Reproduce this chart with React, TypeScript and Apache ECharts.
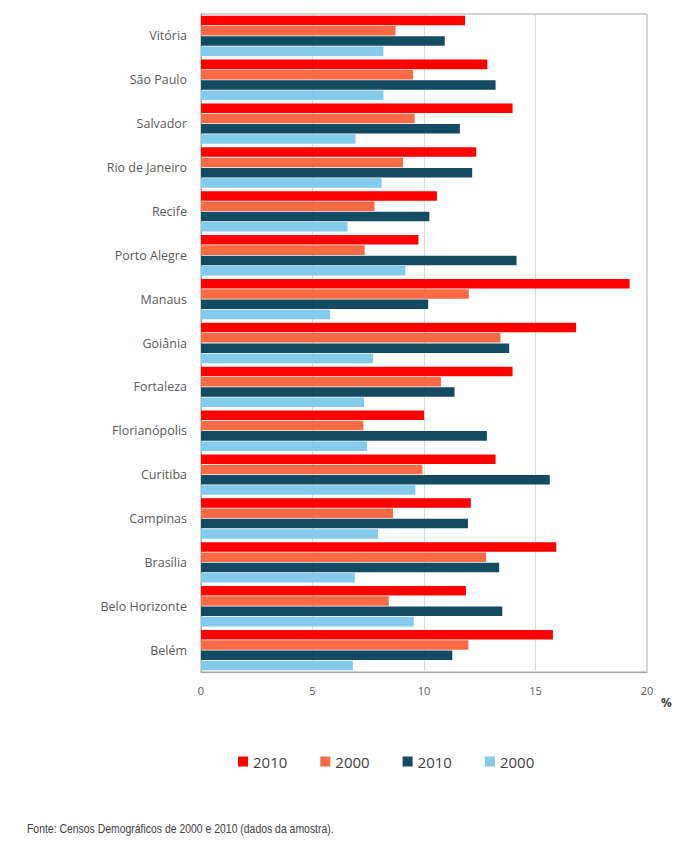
import React, { useEffect, useRef } from 'react';
import * as echarts from 'echarts';

// Cities, top to bottom
const cities = [
  'Vitória', 'São Paulo', 'Salvador', 'Rio de Janeiro', 'Recife',
  'Porto Alegre', 'Manaus', 'Goiânia', 'Fortaleza', 'Florianópolis',
  'Curitiba', 'Campinas', 'Brasília', 'Belo Horizonte', 'Belém',
];

const red2010 = [11.84, 12.84, 13.97, 12.34, 10.58, 9.75, 19.22, 16.82, 13.97, 10.0, 13.21, 12.1, 15.93, 11.88, 15.78];
const orange2000 = [8.72, 9.51, 9.58, 9.06, 7.78, 7.34, 12.01, 13.43, 10.76, 7.28, 9.93, 8.61, 12.78, 8.42, 11.99];
const dark2010 = [10.93, 13.21, 11.61, 12.16, 10.24, 14.15, 10.19, 13.82, 11.37, 12.82, 15.64, 11.97, 13.37, 13.51, 11.27];
const light2000 = [8.18, 8.18, 6.93, 8.1, 6.57, 9.16, 5.79, 7.72, 7.31, 7.45, 9.61, 7.94, 6.9, 9.54, 6.81];

const seriesNames = ['2010', '2000', '2010 ', '2000 '];
const colors = ['#FF0000', '#F96A45', '#134B63', '#83CAEB'];
const xTicks = [0, 20, 5];

const App = () => {
  const chartRef = useRef(null);

  useEffect(() => {
    document.body.style.margin = '0';
    const chart = echarts.init(chartRef.current, null, { renderer: 'svg' });
    const values = [red2010, orange2000, dark2010, light2000];

    chart.setOption({
      animation: false,
      color: colors,
      textStyle: { fontFamily: 'Open Sans' },
      grid: {
        left: 201, right: 48, top: 14, bottom: 171,
        show: true, borderColor: '#a6a6a6', borderWidth: 1,
      },
      legend: {
        top: 749,
        left: 233,
        icon: 'rect',
        itemWidth: 10,
        itemHeight: 10,
        itemGap: 33,
        textStyle: { fontSize: 15, color: '#404040', fontFamily: 'Open Sans' },
        formatter: (n: string) => n.trim(),
      },
      xAxis: {
        type: 'value',
        min: xTicks[0],
        max: xTicks[1],
        interval: xTicks[2],
        axisLine: { show: true, lineStyle: { color: '#a6a6a6' } },
        axisTick: { show: false },
        splitLine: { lineStyle: { color: '#d9d9d9' } },
        axisLabel: { color: '#595959', fontSize: 11, margin: 13 },
      },
      yAxis: {
        type: 'category',
        data: cities,
        inverse: true,
        axisLine: { show: true, lineStyle: { color: '#a6a6a6' } },
        axisTick: { show: false },
        axisLabel: { color: '#595959', fontSize: 12.5, margin: 14 },
      },
      series: values.map((v, i) => ({
        name: seriesNames[i],
        type: 'bar',
        data: v,
        barCategoryGap: '8%',
        barGap: '8%',
        itemStyle: { color: colors[i] },
      })),
      graphic: [
        {
          type: 'text',
          left: 661,
          top: 696,
          style: { text: '%', fontSize: 12, fontWeight: 'bold', fill: '#404040', fontFamily: 'Open Sans' },
        },
        {
          type: 'text',
          x: 27,
          y: 823,
          scaleX: 0.87,
          style: {
            text: 'Fonte: Censos Demográficos de 2000 e 2010 (dados da amostra).',
            fontSize: 12,
            fill: '#404040',
            fontFamily: 'Liberation Sans',
          },
        },
      ],
    });

    return () => {
      chart.dispose();
    };
  }, []);

  return <div ref={chartRef} style={{ height: '843px', width: '695px' }} />;
};

export default App;
